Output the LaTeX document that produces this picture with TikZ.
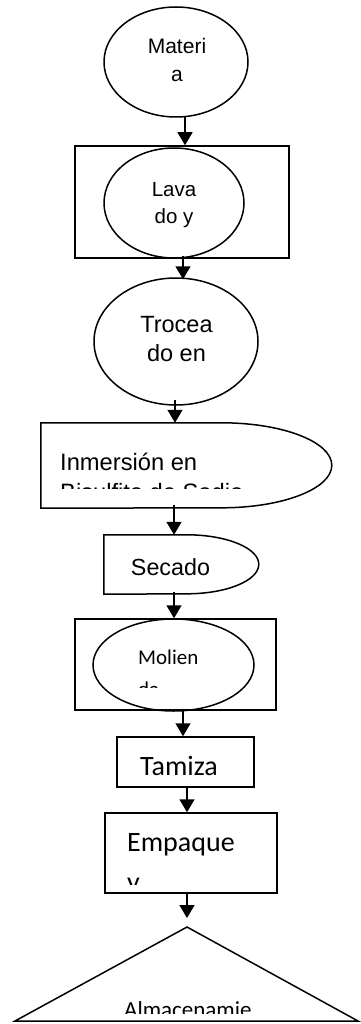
\documentclass[tikz,border=0pt]{standalone}
\usepackage{fontspec}
\newfontfamily\arialf{Liberation Sans}
\newfontfamily\calif{Carlito}
\usetikzlibrary{arrows.meta,shapes.geometric}

\begin{document}
\begin{tikzpicture}[x=1pt,y=-1pt,
    forma/.style={draw,line width=1.5pt,inner sep=0pt},
    hueco/.style={inner sep=0pt},
    flecha/.style={line width=1.5pt,-{Triangle[width=15pt,length=13pt]}},
    texto/.style={inner sep=0pt,anchor=base}]
    \useasboundingbox (0,0) rectangle (360,1024);

    % materia prima
    \node[forma,ellipse,minimum width=144pt,minimum height=110pt] (materia) at (176,62) {};
    \node[texto,align=center,font=\arialf\fontsize{21}{28}\selectfont] (materiaTxt) at (177,82) {Materi\\a};

    % lavado
    \node[forma,minimum width=214pt,minimum height=112pt] (lavadoCaja) at (182,202) {};
    \node[forma,ellipse,minimum width=140pt,minimum height=110pt] (lavado) at (174,203) {};
    \node[texto,align=center,font=\arialf\fontsize{20.5}{26}\selectfont] (lavadoTxt) at (174,223) {Lava\\do y};

    % troceado
    \node[forma,ellipse,minimum width=164pt,minimum height=127pt] (trozado) at (176,341.5) {};
    \node[texto,align=center,font=\arialf\fontsize{23.5}{29}\selectfont] (trozadoTxt) at (176.5,361) {Trocea\\do en};

    % inmersion
    \node[hueco,minimum width=291pt,minimum height=85pt] (inmersion) at (186.5,465.5) {};
    \draw[line width=1.5pt] (inmersion.north west) -- ++(181,0)
        arc[start angle=90,end angle=-90,x radius=110pt,y radius=42.5pt]
        -- (inmersion.south west) -- cycle;
    \begin{scope}
        \clip (41,423) rectangle (332,488);
        \node[texto,anchor=base west,align=left,font=\arialf\fontsize{23.7}{30}\selectfont] (inmersionTxt) at (60,500) {Inmersión en\\Bisulfito de Sodio};
    \end{scope}

    % secado
    \node[hueco,minimum width=155pt,minimum height=59pt] (secado) at (181.5,564.5) {};
    \draw[line width=1.5pt] (secado.north west) -- ++(83,0)
        arc[start angle=90,end angle=-90,x radius=72pt,y radius=29.5pt]
        -- (secado.south west) -- cycle;
    \node[texto,font=\arialf\fontsize{23.3}{28}\selectfont] (secadoTxt) at (170.5,575) {Secado};

    % molienda
    \node[forma,minimum width=201pt,minimum height=91pt] (moliendaCaja) at (175.5,664.5) {};
    \node[forma,ellipse,minimum width=161pt,minimum height=92pt] (molienda) at (173.5,665) {};
    \begin{scope}
        \clip (93,620) rectangle (254,687);
        \node[texto,anchor=base west,align=left,font=\calif\fontsize{21}{32}\selectfont] (moliendaTxt) at (138,696) {Molien\\da};
    \end{scope}

    % tamizado
    \node[forma,minimum width=137pt,minimum height=50pt] (tamizado) at (185.5,762) {};
    \node[texto,font=\calif\fontsize{28}{34}\selectfont] (tamizadoTxt) at (179,775) {Tamiza};

    % empaque
    \node[forma,minimum width=172pt,minimum height=80pt] (empaque) at (191,853) {};
    \begin{scope}
        \clip (105,813) rectangle (277,884);
        \node[texto,anchor=base west,align=left,font=\calif\fontsize{28}{40}\selectfont] (empaqueTxt) at (127,891) {Empaque\\y};
    \end{scope}

    % almacenamiento
    \coordinate (vertice) at (187,927);
    \coordinate (baseIzq) at (15,1021);
    \coordinate (baseDer) at (358,1021);
    \draw[line width=1.5pt] (vertice) -- (baseDer) -- (baseIzq) -- cycle;
    \begin{scope}
        \clip (15,927) rectangle (358,1013);
        \node[texto,anchor=base west,font=\calif\fontsize{23}{28}\selectfont] (almacenTxt) at (124,1017) {Almacenamie};
    \end{scope}

    % flechas
    \draw[flecha] ([xshift=9pt,yshift=2pt]materia.south) -- ([xshift=3pt]lavadoCaja.north);
    \draw[flecha] ([xshift=1pt,yshift=3pt]lavadoCaja.south) -- ([xshift=7pt,yshift=-2pt]trozado.north);
    \draw[flecha] ([xshift=-1pt,yshift=6pt]trozado.south) -- ([xshift=-11.5pt]inmersion.north);
    \draw[flecha] ([xshift=-12.5pt,yshift=3pt]inmersion.south) -- ([xshift=-7.5pt]secado.north);
    \draw[flecha] ([xshift=-7.5pt,yshift=2pt]secado.south) -- ([xshift=-1.5pt]moliendaCaja.north);
    \draw[flecha] ([xshift=7.5pt,yshift=2pt]moliendaCaja.south) -- ([xshift=-2.5pt]tamizado.north);
    \draw[flecha] ([xshift=1.5pt,yshift=2pt]tamizado.south) -- ([xshift=-4pt]empaque.north);
    \draw[flecha] ([xshift=-4pt,yshift=2pt]empaque.south) -- ([yshift=9pt]vertice);
\end{tikzpicture}
\end{document}
